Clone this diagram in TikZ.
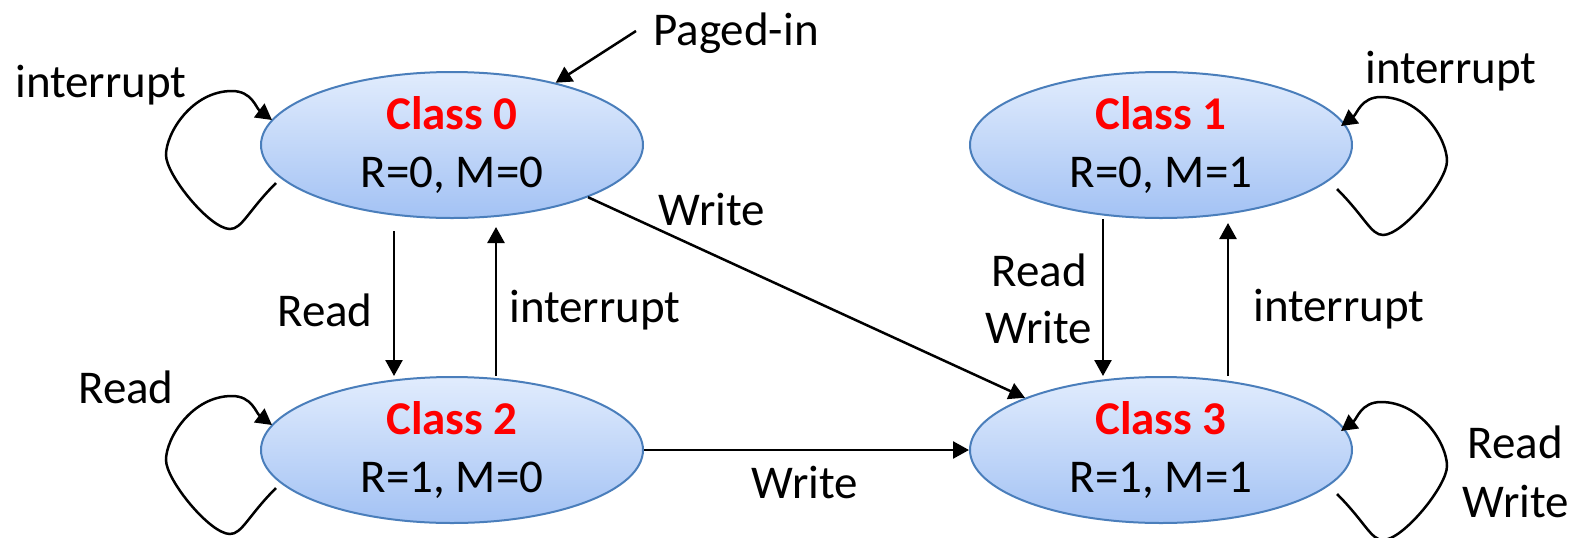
\documentclass[tikz,border=0pt]{standalone}
\usepackage{fontspec}
\setmainfont{Carlito}
\usetikzlibrary{shapes.geometric,arrows.meta}
\definecolor{stateborder}{HTML}{4A7EBB}
\definecolor{statetop}{HTML}{E1ECFD}
\definecolor{statebottom}{HTML}{A3C2F4}
\tikzset{
    state/.style={ellipse, draw=stateborder, line width=1pt,
            top color=statetop, bottom color=statebottom,
            minimum width=191pt, minimum height=73pt, inner sep=0pt, align=center},
    trans/.style={-{Triangle[length=8pt,width=8.5pt]}, line width=1.25pt},
    lbl/.style={inner sep=0pt},
}
\newcommand{\classname}[1]{{\bfseries\color{red}#1}}
% one self loop on the left side of a class, drawn round its center
\newcommand{\loopleft}{(-176,38) .. controls (-204,66) and (-210,84) .. (-222,84)
    .. controls (-242,84) and (-286,30) .. (-286,10)
    .. controls (-286,-12) and (-260,-54) .. (-220,-54)
    .. controls (-200,-54) and (-196,-37) .. (-180,-25)}

\begin{document}
\begin{tikzpicture}[x=0.5pt, y=-0.5pt, font=\fontsize{23.5}{29}\selectfont]
        \useasboundingbox (0,0) rectangle (1576,537);
        %draw the four classes
        \node[state] (c0) at (452,145) {\classname{Class 0}\\R=0, M=0};
        \node[state] (c1) at (1161,145) {\classname{Class 1}\\R=0, M=1};
        \node[state] (c2) at (452,450) {\classname{Class 2}\\R=1, M=0};
        \node[state] (c3) at (1161,450) {\classname{Class 3}\\R=1, M=1};
        %draw page-in arrow
        \node[lbl, anchor=base] (pagedin) at (736,45) {Paged-in};
        \coordinate (pagedstart) at (636,31);
        \draw[trans] (pagedstart) -- (c0.31);
        %draw transitions between classes
        \draw[trans, shorten <=6pt] ([xshift=-29pt]c0.south) -- ([xshift=-29pt]c2.north);
        \draw[trans, shorten >=4pt] ([xshift=22pt]c2.north) -- ([xshift=22pt]c0.south);
        \draw[trans] (c0.-21) -- (c3.159);
        \draw[trans] (c2.east) -- (c3.west);
        \draw[trans] ([xshift=-29pt]c1.south) -- ([xshift=-29pt]c3.north);
        \draw[trans, shorten >=2pt] ([xshift=33.5pt]c3.north) -- ([xshift=33.5pt]c1.south);
        %draw self loops, left ones then mirrored right ones
        \draw[trans, shift={(c0.center)}] \loopleft;
        \draw[trans, shift={(c2.center)}] \loopleft;
        \draw[trans, shift={([yshift=-3pt]c1.center)}, xscale=-1] \loopleft;
        \draw[trans, shift={([yshift=-3pt]c3.center)}, xscale=-1] \loopleft;
        %label transitions
        \node[lbl, anchor=base] (loop0) at (101,97) {interrupt};
        \node[lbl, anchor=base] (loop1) at (1451,83) {interrupt};
        \node[lbl, anchor=base] (loop2) at (126,403) {Read};
        \node[lbl, anchor=base] (loop3a) at (1515,458) {Read};
        \node[lbl, anchor=base] (loop3b) at (1516,517) {Write};
        \node[lbl, anchor=base] (read02) at (325,326) {Read};
        \node[lbl, anchor=base] (intr20) at (595,322) {interrupt};
        \node[lbl, anchor=base] (write03) at (712,225) {Write};
        \node[lbl, anchor=base] (rw13a) at (1039,286) {Read};
        \node[lbl, anchor=base] (rw13b) at (1039,343) {Write};
        \node[lbl, anchor=base] (intr31) at (1339,321) {interrupt};
        \node[lbl, anchor=base] (write23) at (805,498) {Write};
    \end{tikzpicture}
\end{document}
